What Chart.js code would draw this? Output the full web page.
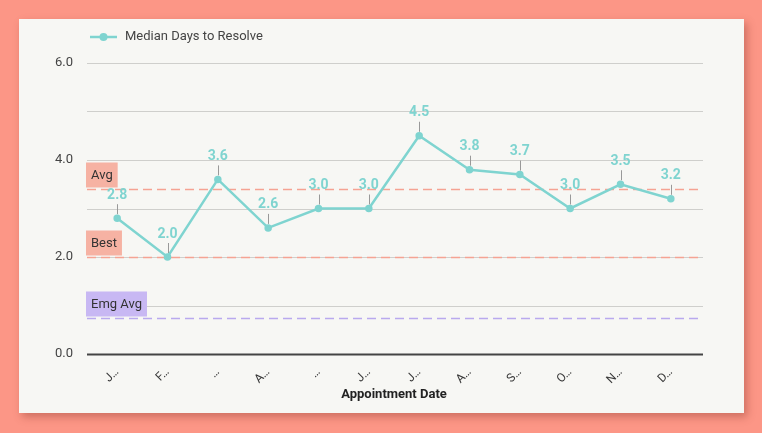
<!DOCTYPE html>
<html>
<head>
<meta charset="utf-8">
<script src="https://cdn.jsdelivr.net/npm/chart.js@4.4.1/dist/chart.umd.min.js"></script>
<style>
  html, body { margin: 0; padding: 0; }
  body { width: 762px; height: 433px; background: #fc9686; position: relative; overflow: hidden; font-family: Roboto, sans-serif; }
  .card { position: absolute; left: 19px; top: 19px; width: 725px; height: 394px; background: #f7f7f4; box-shadow: 3px 4px 8px rgba(120, 40, 30, 0.35); }
  canvas { position: absolute; left: 0; top: 0; }
</style>
</head>
<body>
<div class="card">
  <canvas id="graficaMediana" width="725" height="394"></canvas>
</div>
<script>
// Datos del gráfico
const meses = ['January', 'February', 'March', 'April', 'May', 'June', 'July', 'August', 'September', 'October', 'November', 'December'];
const etiquetasMeses = ['J…', 'F…', '…', 'A…', '…', 'J…', 'J…', 'A…', 'S…', 'O…', 'N…', 'D…'];
const medianaDias = [2.8, 2.0, 3.6, 2.6, 3.0, 3.0, 4.5, 3.8, 3.7, 3.0, 3.5, 3.2];
const lineasRef = ['Avg', 'Best', 'Emg Avg'];
const valoresRef = [3.4, 2.0, 0.75];
const ticksY = [0, 1, 2, 3, 4, 5, 6];

const colorLinea = '#7fd4d0';
const coloresRef = ['#f5a393', '#f5a393', '#b9a9ee'];
const fondosRef = ['#f6b2a3', '#f6b2a3', '#c8b8f3'];

// Plugin para rejilla, leyenda, líneas de referencia y etiquetas de datos
const pluginExtras = {
    id: 'extras',
    beforeDatasetsDraw(chart) {
        const {ctx, chartArea, scales: {y}} = chart;
        const x0 = chartArea.left - 5, x1 = chartArea.right + 7;
        ctx.save();
        // rejilla horizontal extendida
        ticksY.forEach(v => {
            const py = Math.round(y.getPixelForValue(v)) + 0.5;
            ctx.strokeStyle = v === 0 ? '#444' : '#cfcfcc';
            ctx.lineWidth = v === 0 ? 2 : 1;
            ctx.beginPath();
            ctx.moveTo(x0, py);
            ctx.lineTo(x1, py);
            ctx.stroke();
        });
        valoresRef.forEach((v, i) => {
            const py = Math.round(y.getPixelForValue(v)) + 0.5;
            ctx.strokeStyle = coloresRef[i];
            ctx.lineWidth = 1.5;
            ctx.setLineDash([9, 5]);
            ctx.beginPath();
            ctx.moveTo(x0, py);
            ctx.lineTo(x1, py);
            ctx.stroke();
            ctx.setLineDash([]);
            ctx.font = '13px Roboto';
            const w = ctx.measureText(lineasRef[i]).width + 10;
            ctx.fillStyle = fondosRef[i];
            ctx.fillRect(x0 - 1, py - 27, w, 25);
            ctx.fillStyle = '#333';
            ctx.textBaseline = 'middle';
            ctx.textAlign = 'left';
            ctx.fillText(lineasRef[i], x0 + 4, py - 14);
        });
        ctx.restore();
    },
    afterDatasetsDraw(chart) {
        const {ctx} = chart;
        const meta = chart.getDatasetMeta(0);
        ctx.save();
        meta.data.forEach((pt, i) => {
            ctx.strokeStyle = '#999';
            ctx.lineWidth = 1;
            ctx.beginPath();
            ctx.moveTo(Math.round(pt.x) + 0.5, pt.y - 4);
            ctx.lineTo(Math.round(pt.x) + 0.5, pt.y - 14);
            ctx.stroke();
            ctx.font = 'bold 14px Roboto';
            ctx.fillStyle = colorLinea;
            ctx.textAlign = 'center';
            ctx.textBaseline = 'middle';
            ctx.fillText(medianaDias[i].toFixed(1), pt.x, pt.y - 23);
        });
        // Leyenda
        const lx = 71, ly = 18;
        ctx.strokeStyle = colorLinea;
        ctx.lineWidth = 2.5;
        ctx.beginPath();
        ctx.moveTo(lx, ly);
        ctx.lineTo(lx + 27, ly);
        ctx.stroke();
        ctx.fillStyle = colorLinea;
        ctx.beginPath();
        ctx.arc(lx + 13.5, ly, 4, 0, Math.PI * 2);
        ctx.fill();
        ctx.font = '13px Roboto';
        ctx.fillStyle = '#444';
        ctx.textAlign = 'left';
        ctx.textBaseline = 'middle';
        ctx.fillText('Median Days to Resolve', lx + 35, ly);
        ctx.restore();
    }
};

document.addEventListener('DOMContentLoaded', function() {
    const ctx = document.getElementById('graficaMediana');
    new Chart(ctx.getContext('2d'), {
        type: 'line',
        data: {
            labels: meses,
            datasets: [{
                label: 'Median Days to Resolve',
                data: medianaDias,
                borderColor: colorLinea,
                backgroundColor: colorLinea,
                borderWidth: 2.5,
                pointRadius: 2.5,
                pointHoverRadius: 2.5,
                tension: 0,
                fill: false
            }]
        },
        options: {
            responsive: false,
            animation: false,
            layout: { padding: { top: 44, right: 48, left: 0, bottom: 0 } },
            plugins: {
                legend: { display: false },
                tooltip: { enabled: false }
            },
            scales: {
                x: {
                    offset: true,
                    grid: { display: false },
                    border: { display: false },
                    afterFit: function(scale) { scale.height = 59; },
                    ticks: {
                        color: '#3a3a3a',
                        font: { family: 'Roboto', size: 12 },
                        minRotation: 45,
                        maxRotation: 45,
                        autoSkip: false,
                        callback: function(val, idx) { return etiquetasMeses[idx]; }
                    },
                    title: {
                        display: true,
                        text: 'Appointment Date',
                        color: '#222',
                        font: { family: 'Roboto', size: 13, weight: 'bold' },
                        padding: { top: 0, bottom: 10 }
                    }
                },
                y: {
                    min: 0,
                    max: 6,
                    border: { display: false },
                    afterFit: function(scale) { scale.width = 73; },
                    grid: { display: false },
                    ticks: {
                        stepSize: 1,
                        padding: 11,
                        color: '#444',
                        font: { family: 'Roboto', size: 13 },
                        callback: function(v) { return v % 2 === 0 ? v.toFixed(1) : ''; }
                    }
                }
            }
        },
        plugins: [pluginExtras]
    });
});
</script>
</body>
</html>
